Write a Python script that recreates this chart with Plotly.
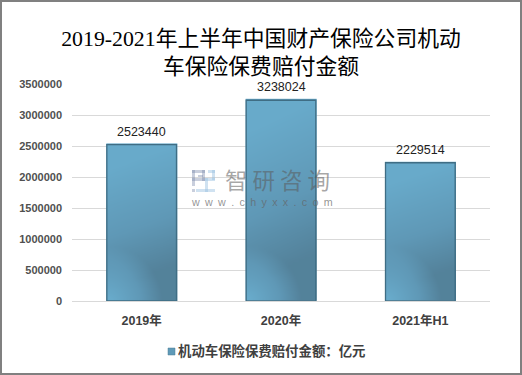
import numpy as np
import plotly.graph_objects as go

categories = ["2019年", "2020年", "2021年H1"]
values = [2523440, 3238024, 2229514]
y_ticks = [0, 500000, 1000000, 1500000, 2000000, 2500000, 3000000, 3500000]
title_text = "2019-2021年上半年中国财产保险公司机动<br>车保险保费赔付金额"
legend_text = "机动车保险保费赔付金额：亿元"

W, H = 522, 375
L, R, T, B = 72, 490, 84, 301
CJK = "Noto Sans CJK SC"
SANS = f"Liberation Sans, {CJK}"
SERIF = f"Liberation Serif, {CJK}"

x_pos = list(range(len(categories)))
half = 0.25
y_max = y_ticks[-1]

fig = go.Figure()

# gradient fill for each bar: light at the top, darker towards the lower right,
# with a soft light patch in the lower-left corner
scale = [[0, "#68aaca"], [0.55, "#5f98b6"], [1, "#527f97"]]
GRID = 70
for xp, val in zip(x_pos, values):
    h_px = val / y_max * (B - T)
    w_px = half * 2 * (R - L) / 3
    U, V = np.meshgrid(np.linspace(0, 1, GRID), np.linspace(0, 1, GRID))
    base = np.clip((1 - V) * 1.25 - 0.1 + (U - 0.5) * 0.2, 0, 0.95)
    dist = np.hypot(U * w_px, V * h_px)
    corner = np.clip((dist - 5) / 50, 0, 1)
    shade = base * corner
    fig.add_trace(go.Heatmap(
        x=np.linspace(xp - half, xp + half, GRID), y=np.linspace(0, val, GRID), z=shade,
        zmin=0, zmax=1, colorscale=scale, showscale=False, hoverinfo="skip", zsmooth="best",
    ))

fig.add_trace(go.Bar(
    x=x_pos, y=values, width=half * 2, name=legend_text,
    marker=dict(color="rgba(0,0,0,0)", line=dict(color="#3f6d84", width=1.3)),
    showlegend=False,
))

for xp, val in zip(x_pos, values):
    fig.add_annotation(x=xp, y=val, yshift=13, text=str(val), showarrow=False,
                       xanchor="center", yanchor="middle",
                       font=dict(family=SANS, size=12.5, color="#222222"))

fig.update_layout(
    width=W, height=H, autosize=False,
    margin=dict(l=L, r=W - R, t=T, b=H - B),
    paper_bgcolor="white", plot_bgcolor="white", showlegend=False,
    title=dict(text=title_text, x=0.5, xanchor="center", y=1 - 46 / H, yanchor="middle",
               font=dict(family=SERIF, size=21.8, color="#000000")),
    xaxis=dict(tickmode="array", tickvals=x_pos, ticktext=[f"<b>{c}</b>" for c in categories],
               range=[-0.5, 2.5], showgrid=False, zeroline=False, ticks="", ticklen=0,
               ticklabelstandoff=10,
               tickfont=dict(family=SANS, size=12.5, color="#404040"), automargin=False),
    yaxis=dict(tickmode="array", tickvals=y_ticks, ticktext=[f"<b>{t}</b>" for t in y_ticks],
               range=[0, y_max], showgrid=True, gridcolor="#d9d9d9", gridwidth=1.3,
               zeroline=True, zerolinecolor="#d9d9d9", zerolinewidth=1.3, ticks="",
               ticklabelstandoff=9,
               layer="below traces", tickfont=dict(family=SANS, size=11, color="#505050"),
               automargin=False),
    bargap=0.5,
)

def px(x): return (x - L) / (R - L)
def py(y): return (B - y) / (B - T)

shapes = [
    dict(type="rect", xref="paper", yref="paper", x0=px(1), x1=px(W - 1), y0=py(H - 1), y1=py(1),
         line=dict(color="#808080", width=2), fillcolor="rgba(0,0,0,0)"),
    dict(type="rect", xref="paper", yref="paper", x0=px(168), x1=px(175), y0=py(355), y1=py(348),
         line=dict(color="#4f7d94", width=0.5), fillcolor="#5f9ab8"),
]
logo_blue = "rgba(150,190,225,0.45)"
logo_grey = "rgba(120,135,170,0.40)"
for (x0, y0, x1, y1, c) in [
    (192, 170, 205, 173, logo_grey), (192, 170, 195, 186, logo_grey), (192, 178, 205, 181, logo_grey),
    (202, 170, 205, 181, logo_grey), (198, 175, 203, 177, logo_grey),
    (208, 170, 215, 173, logo_blue), (212, 170, 215, 180, logo_blue), (205, 178, 215, 181, logo_blue),
    (205, 178, 208, 192, logo_blue), (196, 189, 215, 192, logo_blue), (192, 189, 195, 192, logo_grey),
]:
    shapes.append(dict(type="rect", xref="paper", yref="paper", x0=px(x0), x1=px(x1), y0=py(y1), y1=py(y0),
                       line=dict(width=0), fillcolor=c))
fig.update_layout(shapes=shapes)

fig.add_annotation(xref="paper", yref="paper", x=px(176), y=py(351), xanchor="left", yanchor="middle",
                   showarrow=False, text=f"<b>{legend_text}</b>",
                   font=dict(family=SANS, size=13.4, color="#404040"))
fig.add_annotation(xref="paper", yref="paper", x=px(277.5), y=py(178.5), xanchor="center", yanchor="middle",
                   showarrow=False, text="智 研 咨 询",
                   font=dict(family=CJK, size=22.5, color="rgba(90,90,90,0.55)"))
wm = "\u2002".join("www.chyxx.com")
fig.add_annotation(xref="paper", yref="paper", x=px(261.5), y=py(201.5), xanchor="center", yanchor="middle",
                   showarrow=False, text=wm,
                   font=dict(family="Liberation Sans", size=10.7, color="rgba(100,100,100,0.7)"))

fig.write_html("out.html", post_script="document.body.style.margin='0';", config={"displayModeBar": False})
